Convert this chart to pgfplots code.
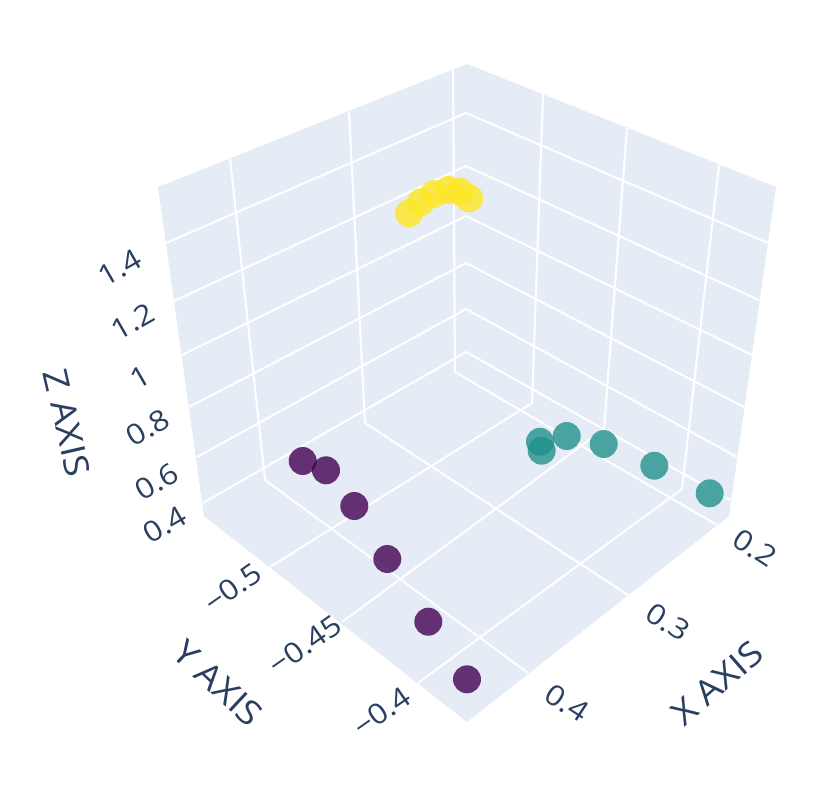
\documentclass[border=0pt]{standalone}
\usepackage{fontspec}
\setmainfont{Open Sans}[FakeStretch=1.11]
\usepackage{pgfplots}
\pgfplotsset{compat=1.18}
\definecolor{pane}{HTML}{E5ECF6}
\definecolor{txt}{HTML}{2A3F5F}
\definecolor{cPurple}{HTML}{440154}
\definecolor{cTeal}{HTML}{21918C}
\definecolor{cYellow}{HTML}{FDE725}
\pgfplotsset{
  grd/.style={white, line width=2pt, line join=round},
  pts/.style={only marks, mark=*, mark size=14pt, mark options={draw opacity=0, fill=#1, fill opacity=0.8}},
}
\tikzset{
  tklab/.style={font=\fontsize{28.5}{28.5}\selectfont, text=txt, inner sep=0pt, anchor=center},
  ttl/.style={font=\fontsize{34}{34}\selectfont, text=txt, inner sep=0pt, anchor=center},
}
\begin{document}
\begin{tikzpicture}
% coordinates are the projected positions in the 831x787 frame
\begin{axis}[
    scale only axis, width=831pt, height=787pt,
    xmin=0, xmax=831, ymin=0, ymax=787, y dir=reverse,
    hide axis, clip=false,
]
\path (axis cs:0,0) rectangle (axis cs:831,787);
% panes
\addplot[fill=pane, draw=none] coordinates {(158,187)(467,64)(776,187)(729,516)(467,722)(204,516)} --cycle;
% z grid lines
\addplot[grd] coordinates {(166,243)(466,113)(768,243)};
\addplot[grd] coordinates {(174,301)(466,166)(759,300)};
\addplot[grd] coordinates {(182,355)(466,216)(752,355)};
\addplot[grd] coordinates {(189,407)(466,263)(744,407)};
\addplot[grd] coordinates {(197,457)(466,309)(737,457)};
\addplot[grd] coordinates {(203,503)(466,352)(730,500)};
% x grid lines, wall then floor
\addplot[grd] coordinates {(230,158)(265,480)(528,673)};
\addplot[grd] coordinates {(349,112)(365,423)(628,595)};
\addplot[grd] coordinates {(453,68)(455,372)(717,525)};
% y grid lines, wall then floor
\addplot[grd] coordinates {(543,94)(532,403)(270,567)};
\addplot[grd] coordinates {(627,128)(604,429)(342,622)};
\addplot[grd] coordinates {(719,165)(682,489)(418,683)};
% clusters
\addplot[pts=cPurple] coordinates {(302.7,461)(326,470.3)(354.3,506)(387.3,559)(428.3,621.7)(467,679.3)};
\addplot[pts=cTeal] coordinates {(540,441.7)(541.7,450.7)(566.7,436)(603.7,444)(654.3,465.7)(709.7,493.3)};
\addplot[pts=cYellow] coordinates {(409,213.3)(420.7,202.3)(434,194)(448.3,190)(460,191.7)(469.3,198.3)};
% z ticks
\node[tklab, rotate=30] at (axis cs:120,268) {1.4};
\node[tklab, rotate=30] at (axis cs:133,322) {1.2};
\node[tklab, rotate=30] at (axis cs:140,377) {1};
\node[tklab, rotate=30] at (axis cs:148,428) {0.8};
\node[tklab, rotate=30] at (axis cs:157,482) {0.6};
\node[tklab, rotate=30] at (axis cs:165,525) {0.4};
% y ticks
\node[tklab, rotate=35] at (axis cs:233,588) {−0.5};
\node[tklab, rotate=35] at (axis cs:305,645) {−0.45};
\node[tklab, rotate=35] at (axis cs:382,712) {−0.4};
% x ticks
\node[tklab, rotate=-33] at (axis cs:755,548) {0.2};
\node[tklab, rotate=-33] at (axis cs:668,622) {0.3};
\node[tklab, rotate=-33] at (axis cs:567,703) {0.4};
% axis titles
\node[ttl, rotate=41] at (axis cs:717,683) {X AXIS};
\node[ttl, rotate=-43] at (axis cs:218,683) {Y AXIS};
\node[ttl, rotate=-77] at (axis cs:67,423) {Z AXIS};
\end{axis}
\end{tikzpicture}
\end{document}
